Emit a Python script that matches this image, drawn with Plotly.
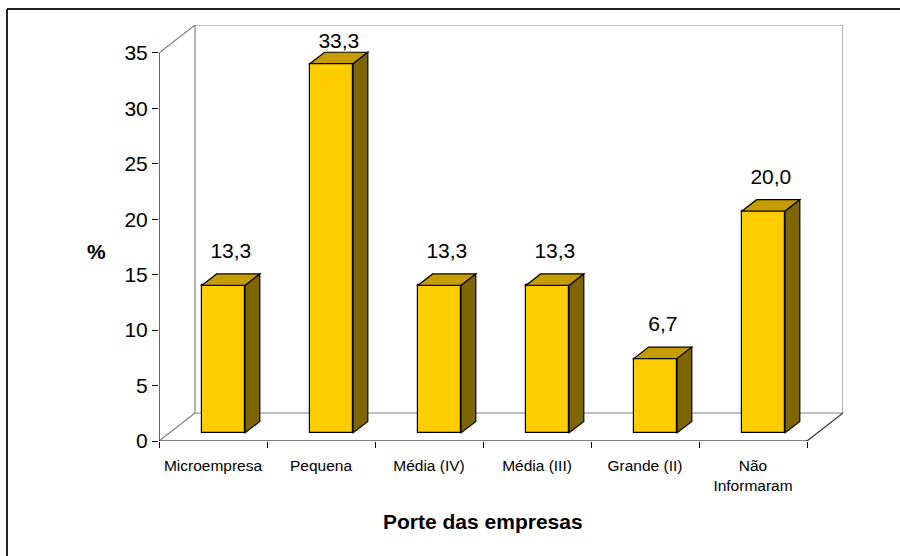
import plotly.graph_objects as go

# Data
categories = ["Microempresa", "Pequena", "Média (IV)", "Média (III)", "Grande (II)", "Não<br>Informaram"]
values = [13.3, 33.3, 13.3, 13.3, 6.7, 20.0]
value_labels = ["13,3", "33,3", "13,3", "13,3", "6,7", "20,0"]
y_ticks = [0, 5, 10, 15, 20, 25, 30, 35]

# Layout geometry (pixels)
W, H = 900, 556
ML, MR, MT, MB = 159, 57, 25, 115

# Pseudo-3D depth of the chart box, in axis units
Y_MAX = 35
DEPTH_X = 1 / 3          # category units
DEPTH_Y = 2.525          # % units
F_FRONT, F_BACK = 0.29, 0.70   # depth fractions for bar front/back faces
BAR_W = 0.4

FRONT = "#FFCC00"
TOP = "#C69D00"
SIDE = "#806600"
WALL = "#808080"

n = len(categories)
centers = [i + 0.5 for i in range(n)]
ox_f, oy_f = F_FRONT * DEPTH_X, F_FRONT * DEPTH_Y
ox_b, oy_b = F_BACK * DEPTH_X, F_BACK * DEPTH_Y

fig = go.Figure()

# Front faces of the bars
fig.add_trace(go.Bar(
    x=[c + ox_f for c in centers], y=values, base=[oy_f] * n, width=BAR_W,
    marker=dict(color=FRONT, line=dict(color="black", width=1.2)),
    hoverinfo="skip", showlegend=False,
))

shapes = []

def seg(x0, y0, x1, y1, color, width=1.2):
    shapes.append(dict(type="line", xref="x", yref="y", x0=x0, y0=y0, x1=x1, y1=y1,
                       line=dict(color=color, width=width), layer="below"))

# Chart box: back wall, floor edges and side diagonals
seg(DEPTH_X, DEPTH_Y, DEPTH_X, Y_MAX + DEPTH_Y, WALL)
seg(DEPTH_X, Y_MAX + DEPTH_Y, n + DEPTH_X, Y_MAX + DEPTH_Y, WALL)
seg(n + DEPTH_X, DEPTH_Y, n + DEPTH_X, Y_MAX + DEPTH_Y, WALL)
seg(DEPTH_X, DEPTH_Y, n + DEPTH_X, DEPTH_Y, WALL)
seg(0, Y_MAX, DEPTH_X, Y_MAX + DEPTH_Y, WALL)
seg(0, 0, DEPTH_X, DEPTH_Y, WALL)
seg(n, 0, n + DEPTH_X, DEPTH_Y, "#333333")
seg(0, 0, 0, Y_MAX, "black")
seg(0, 0, n, 0, "black")

# Top and side faces of each bar
for c, v in zip(centers, values):
    xl, xr = c + ox_f - BAR_W / 2, c + ox_f + BAR_W / 2
    dx, dy = ox_b - ox_f, oy_b - oy_f
    yb, yt = oy_f, oy_f + v
    top = f"M {xl},{yt} L {xr},{yt} L {xr+dx},{yt+dy} L {xl+dx},{yt+dy} Z"
    side = f"M {xr},{yb} L {xr+dx},{yb+dy} L {xr+dx},{yt+dy} L {xr},{yt} Z"
    for path, col in ((top, TOP), (side, SIDE)):
        shapes.append(dict(type="path", xref="x", yref="y", path=path,
                           fillcolor=col, line=dict(color="black", width=1.2),
                           layer="above"))

# Outer frame (top and left edges)
pw, ph = W - ML - MR, H - MT - MB
fx0, fy0 = 7, 9
px0 = (fx0 - ML) / pw
py0 = (H - MB - fy0) / ph
shapes.append(dict(type="line", xref="paper", yref="paper", x0=px0, y0=py0,
                   x1=(W - ML) / pw, y1=py0, line=dict(color="#222222", width=2)))
shapes.append(dict(type="line", xref="paper", yref="paper", x0=px0, y0=py0,
                   x1=px0, y1=-MB / ph, line=dict(color="#222222", width=2)))

# Value labels above each bar (kept inside the box top)
LABEL_GAP = 1.9
label_y = [min(v + oy_b + LABEL_GAP, Y_MAX + DEPTH_Y - 1.6) for v in values]
fig.add_trace(go.Scatter(
    x=[c + (ox_f + ox_b) / 2 for c in centers], y=label_y, mode="text",
    text=value_labels, textposition="middle center",
    textfont=dict(family="Liberation Sans, Arial", size=21, color="black"),
    hoverinfo="skip", showlegend=False, cliponaxis=False,
))

font = "Liberation Sans, Arial"
fig.update_layout(
    width=W, height=H,
    margin=dict(l=ML, r=MR, t=MT, b=MB, pad=0),
    paper_bgcolor="white", plot_bgcolor="white",
    shapes=shapes,
    bargap=0,
    xaxis=dict(
        range=[0, n + DEPTH_X], showgrid=False, zeroline=False, showline=False,
        tickmode="array", tickvals=centers, ticktext=categories,
        ticks="", ticklabelstandoff=13,
        tickfont=dict(family=font, size=15.5, color="black"),
        minor=dict(tickmode="linear", tick0=0, dtick=1, ticks="outside",
                   ticklen=6, tickcolor="black", tickwidth=1, showgrid=False),
        fixedrange=True,
    ),
    yaxis=dict(
        range=[0, Y_MAX + DEPTH_Y], showgrid=False, zeroline=False, showline=False,
        tickmode="array", tickvals=y_ticks, ticks="outside", ticklen=6,
        tickcolor="black", tickwidth=1,
        tickfont=dict(family=font, size=21, color="black"),
        fixedrange=True,
    ),
    annotations=[
        dict(text="<b>Porte das empresas</b>", xref="x", yref="paper",
             x=n / 2, y=-(521 - (H - MB)) / ph, showarrow=False,
             font=dict(family=font, size=21, color="black"),
             xanchor="center", yanchor="middle"),
        dict(text="<b>%</b>", xref="paper", yref="paper",
             x=(96 - ML) / pw, y=(H - MB - 251) / ph, showarrow=False,
             font=dict(family=font, size=21, color="black"),
             xanchor="center", yanchor="middle"),
    ],
)

fig.write_html("out.html")
